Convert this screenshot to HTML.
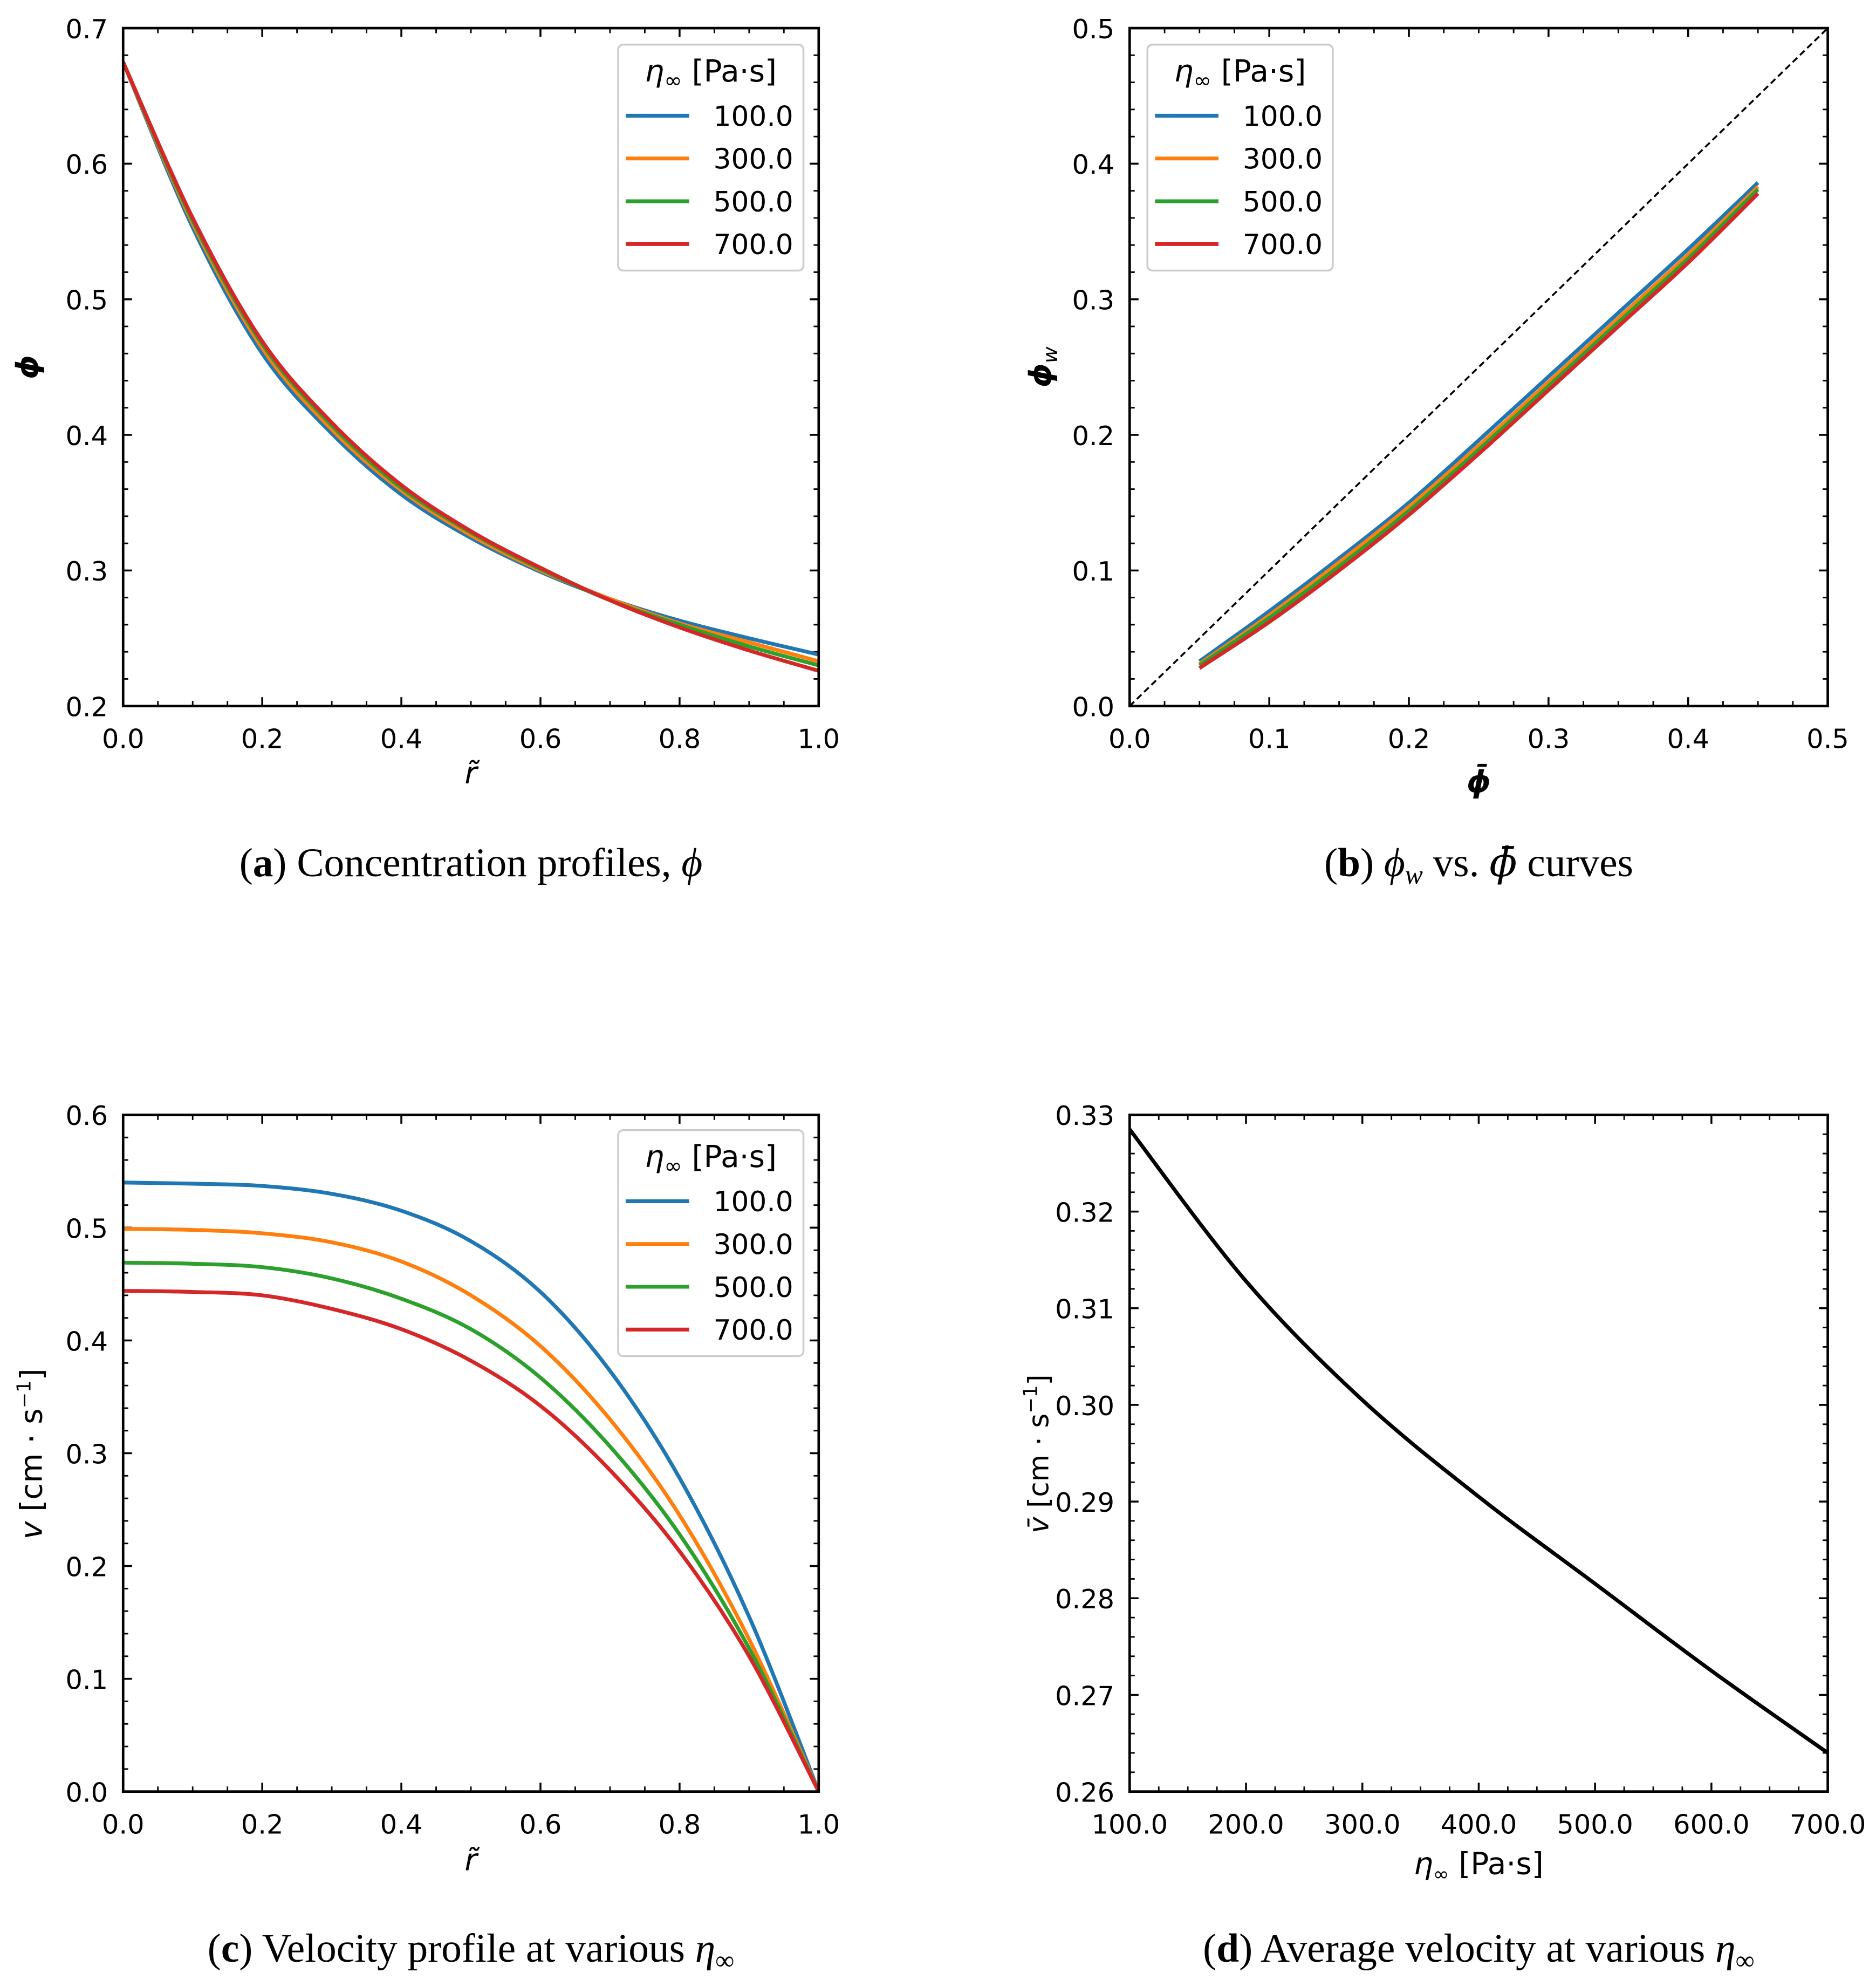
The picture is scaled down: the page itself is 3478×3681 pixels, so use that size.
<!DOCTYPE html>
<html><head><meta charset="utf-8"><style>
html,body{margin:0;padding:0;background:#fff;}
svg{display:block;}
text{font-family:"DejaVu Sans","Liberation Sans",sans-serif;fill:#000;}
.cap{font-family:"Liberation Serif",serif;font-size:32px;}
</style></head><body>
<svg id="fig" width="3478" height="3681" viewBox="0 0 1478 1564" xmlns="http://www.w3.org/2000/svg"></svg>
<script>
const rA=[0,0.1,0.2,0.3,0.4,0.5,0.6,0.7,0.8,0.9,1.0];
const phiA_100=[0.675,0.553,0.460,0.401,0.356,0.324,0.299,0.279,0.263,0.250,0.238];
const phiA_300=[0.675,0.556,0.464,0.404,0.359,0.326,0.300,0.279,0.261,0.247,0.233];
const phiA_500=[0.675,0.558,0.467,0.407,0.361,0.328,0.301,0.278,0.260,0.244,0.230];
const phiA_700=[0.675,0.560,0.469,0.409,0.363,0.329,0.302,0.278,0.258,0.241,0.226];
const phiBar=[0.05,0.1,0.15,0.2,0.25,0.3,0.35,0.4,0.45];
const phiW_100=[0.033,0.070,0.109,0.150,0.196,0.243,0.290,0.337,0.386];
const phiW_300=[0.031,0.067,0.106,0.147,0.192,0.239,0.286,0.333,0.383];
const phiW_500=[0.030,0.065,0.103,0.144,0.189,0.236,0.283,0.330,0.381];
const phiW_700=[0.028,0.062,0.100,0.141,0.186,0.233,0.280,0.327,0.378];
const rC=[0,0.1,0.2,0.3,0.4,0.5,0.6,0.7,0.8,0.9,1.0];
const v_100=[0.540,0.539,0.537,0.530,0.515,0.488,0.443,0.373,0.278,0.155,0.0];
const v_300=[0.499,0.498,0.495,0.487,0.470,0.440,0.395,0.330,0.245,0.135,0.0];
const v_500=[0.469,0.468,0.465,0.455,0.437,0.410,0.367,0.306,0.228,0.127,0.0];
const v_700=[0.444,0.443,0.440,0.428,0.410,0.382,0.342,0.285,0.213,0.120,0.0];
const etaD=[100,200,300,400,500,600,700];
const vbarD=[0.3285,0.3128,0.3005,0.2905,0.2815,0.2725,0.2640];
const legendLabels=["100.0","300.0","500.0","700.0"];
const colors=["#1f77b4","#ff7f0e","#2ca02c","#d62728"];
const NS="http://www.w3.org/2000/svg";
const svg=document.getElementById('fig');
function mk(tag,attrs,parent){const e=document.createElementNS(NS,tag);for(const k in attrs)e.setAttribute(k,attrs[k]);(parent||svg).appendChild(e);return e;}
function txt(s,x,y,anchor,size,parent,extra){const t=mk('text',Object.assign({x:x,y:y,'text-anchor':anchor,'font-size':size},extra||{}),parent);t.textContent=s;return t;}
function smooth(pts){let d='M'+pts[0][0]+','+pts[0][1];for(let i=0;i<pts.length-1;i++){const p0=pts[Math.max(0,i-1)],p1=pts[i],p2=pts[i+1],p3=pts[Math.min(pts.length-1,i+2)];const c1=[p1[0]+(p2[0]-p0[0])/6,p1[1]+(p2[1]-p0[1])/6],c2=[p2[0]-(p3[0]-p1[0])/6,p2[1]-(p3[1]-p1[1])/6];d+=' C'+c1[0]+','+c1[1]+' '+c2[0]+','+c2[1]+' '+p2[0]+','+p2[1];}return d;}
function axes(o){
 const g=mk('g',{});
 
 
 const sx=v=>o.x0+(v-o.xmin)/(o.xmax-o.xmin)*(o.x1-o.x0);
 const sy=v=>o.y1-(v-o.ymin)/(o.ymax-o.ymin)*(o.y1-o.y0);
 for(let v=o.xmin;v<=o.xmax+1e-9;v+=o.xminor){const x=sx(v);mk('line',{x1:x,x2:x,y1:o.y1,y2:o.y1-4,stroke:'#000','stroke-width':1.2},g);mk('line',{x1:x,x2:x,y1:o.y0,y2:o.y0+4,stroke:'#000','stroke-width':1.2},g);}
 for(let v=o.ymin;v<=o.ymax+1e-9;v+=o.yminor){const y=sy(v);mk('line',{x1:o.x0,x2:o.x0+4,y1:y,y2:y,stroke:'#000','stroke-width':1.2},g);mk('line',{x1:o.x1,x2:o.x1-4,y1:y,y2:y,stroke:'#000','stroke-width':1.2},g);}
 o.xticks.forEach((v,i)=>{const x=sx(v);mk('line',{x1:x,x2:x,y1:o.y1,y2:o.y1-7,stroke:'#000','stroke-width':1.5},g);mk('line',{x1:x,x2:x,y1:o.y0,y2:o.y0+7,stroke:'#000','stroke-width':1.5},g);const t=txt(o.xlabels[i],x,o.y1+33,'middle',21,g);});
 o.yticks.forEach((v,i)=>{const y=sy(v);mk('line',{x1:o.x0,x2:o.x0+7,y1:y,y2:y,stroke:'#000','stroke-width':1.5},g);mk('line',{x1:o.x1,x2:o.x1-7,y1:y,y2:y,stroke:'#000','stroke-width':1.5},g);const t=txt(o.ylabels[i],o.x0-12,y+8,'end',21,g);});
 const cp='clip'+o.name;const c=mk('clipPath',{id:cp},g);mk('rect',{x:o.x0,y:o.y0,width:o.x1-o.x0,height:o.y1-o.y0},c);
 const pg=mk('g',{'clip-path':'url(#'+cp+')'},g);
 o.series.forEach(s=>{const pts=s.x.map((xv,i)=>[sx(xv),sy(s.y[i])]);const p=mk('path',{d:smooth(pts),fill:'none',stroke:s.color,'stroke-width':s.w||3,'stroke-dasharray':s.dash||'none'},pg);});
 const fr=mk('rect',{x:o.x0,y:o.y0,width:o.x1-o.x0,height:o.y1-o.y0,fill:'none',stroke:'#000','stroke-width':2},g);
 
 
 if(o.legend){const L=o.legend;const lg=mk('g',{},g);
  
  
  mk('rect',{x:L.x,y:L.y,width:146,height:178,rx:4,fill:'#fff','fill-opacity':0.8,stroke:'#ccc','stroke-width':1.5},lg);
  const tt=mk('text',{x:L.x+73,y:L.y+29,'text-anchor':'middle','font-size':24},lg);
  tt.innerHTML='<tspan font-style="italic">η</tspan><tspan font-size="17" dy="5">∞</tspan><tspan dy="-5"> [Pa·s]</tspan>';
  legendLabels.forEach((lab,i)=>{const y=L.y+56+i*33.7;mk('line',{x1:L.x+6,x2:L.x+56,y1:y,y2:y,stroke:colors[i],'stroke-width':3},lg);const t=txt(lab,L.x+138,y+8,'end',22,lg);});
 }
 return g;
}
axes({name:'panel-a',x0:97,x1:645,y0:22,y1:556,xmin:0,xmax:1,ymin:0.2,ymax:0.7,xminor:0.05,yminor:0.02,
 xticks:[0,0.2,0.4,0.6,0.8,1],xlabels:['0.0','0.2','0.4','0.6','0.8','1.0'],yticks:[0.2,0.3,0.4,0.5,0.6,0.7],ylabels:['0.2','0.3','0.4','0.5','0.6','0.7'],
 series:[phiA_100,phiA_300,phiA_500,phiA_700].map((y,i)=>({x:rA,y:y,color:colors[i],name:'phi-curve-'+legendLabels[i]})),legend:{x:487,y:35}});
axes({name:'panel-b',x0:890,x1:1440,y0:22,y1:556,xmin:0,xmax:0.5,ymin:0,ymax:0.5,xminor:0.025,yminor:0.02,
 xticks:[0,0.1,0.2,0.3,0.4,0.5],xlabels:['0.0','0.1','0.2','0.3','0.4','0.5'],yticks:[0,0.1,0.2,0.3,0.4,0.5],ylabels:['0.0','0.1','0.2','0.3','0.4','0.5'],
 series:[{x:[0,0.5],y:[0,0.5],color:'#000',w:1.5,dash:'5,3',name:'identity-line'}].concat([phiW_100,phiW_300,phiW_500,phiW_700].map((y,i)=>({x:phiBar,y:y,color:colors[i],name:'phiw-curve-'+legendLabels[i]}))),legend:{x:904,y:35}});
axes({name:'panel-c',x0:97,x1:645,y0:878,y1:1411,xmin:0,xmax:1,ymin:0,ymax:0.6,xminor:0.05,yminor:0.02,
 xticks:[0,0.2,0.4,0.6,0.8,1],xlabels:['0.0','0.2','0.4','0.6','0.8','1.0'],yticks:[0,0.1,0.2,0.3,0.4,0.5,0.6],ylabels:['0.0','0.1','0.2','0.3','0.4','0.5','0.6'],
 series:[v_100,v_300,v_500,v_700].map((y,i)=>({x:rC,y:y,color:colors[i],name:'velocity-curve-'+legendLabels[i]})),legend:{x:487,y:890}});
axes({name:'panel-d',x0:890,x1:1440,y0:878,y1:1411,xmin:100,xmax:700,ymin:0.26,ymax:0.33,xminor:25,yminor:0.002,
 xticks:[100,200,300,400,500,600,700],xlabels:['100.0','200.0','300.0','400.0','500.0','600.0','700.0'],yticks:[0.26,0.27,0.28,0.29,0.30,0.31,0.32,0.33],ylabels:['0.26','0.27','0.28','0.29','0.30','0.31','0.32','0.33'],
 series:[{x:etaD,y:vbarD,color:'#000',w:3,name:'average-velocity-curve'}]});
function lab(html,x,y,rot,name,cls,size){const t=mk('text',{x:x,y:y,'text-anchor':'middle','font-size':size||24,transform:rot?'rotate(-90 '+x+' '+y+')':''});if(cls)t.setAttribute('class',cls);t.innerHTML=html;return t;}
lab('<tspan font-style="italic" font-weight="bold">ϕ</tspan>',30,289,true,'y-axis-title-a');
lab('<tspan font-style="italic">r̃</tspan>',371,617,false,'x-axis-title-a');
lab('<tspan font-style="italic" font-weight="bold">ϕ</tspan><tspan font-size="16" dy="5" font-style="italic">w</tspan>',828,289,true,'y-axis-title-b');
lab('<tspan font-style="italic" font-weight="bold">ϕ̄</tspan>',1165,624,false,'x-axis-title-b');
lab('<tspan font-style="italic">v</tspan> [cm · s<tspan font-size="15" dy="-9">−1</tspan><tspan dy="9">]</tspan>',33,1145,true,'y-axis-title-c');
lab('<tspan font-style="italic">r̃</tspan>',371,1473,false,'x-axis-title-c');
lab('<tspan font-style="italic">v̄</tspan> [cm · s<tspan font-size="15" dy="-9">−1</tspan><tspan dy="9">]</tspan>',826,1145,true,'y-axis-title-d',null,22);
lab('<tspan font-style="italic">η</tspan><tspan font-size="15" dy="5">∞</tspan><tspan dy="-5"> [Pa·s]</tspan>',1165,1476,false,'x-axis-title-d');
lab('(<tspan font-weight="bold">a</tspan>) Concentration profiles, <tspan font-style="italic">ϕ</tspan>',371,690,false,'caption-a','cap',32);
lab('(<tspan font-weight="bold">b</tspan>) <tspan font-style="italic">ϕ</tspan><tspan font-style="italic" font-size="21" dy="6">w</tspan><tspan dy="-6"> vs. </tspan><tspan font-style="italic" font-family="DejaVu Serif">ϕ̄</tspan> curves',1165,690,false,'caption-b','cap',32);
lab('(<tspan font-weight="bold">c</tspan>) Velocity profile at various <tspan font-style="italic">η</tspan><tspan font-size="21" dy="6">∞</tspan>',371,1545,false,'caption-c','cap',32);
lab('(<tspan font-weight="bold">d</tspan>) Average velocity at various <tspan font-style="italic">η</tspan><tspan font-size="21" dy="6">∞</tspan>',1165,1545,false,'caption-d','cap',32);
</script>
</body></html>
